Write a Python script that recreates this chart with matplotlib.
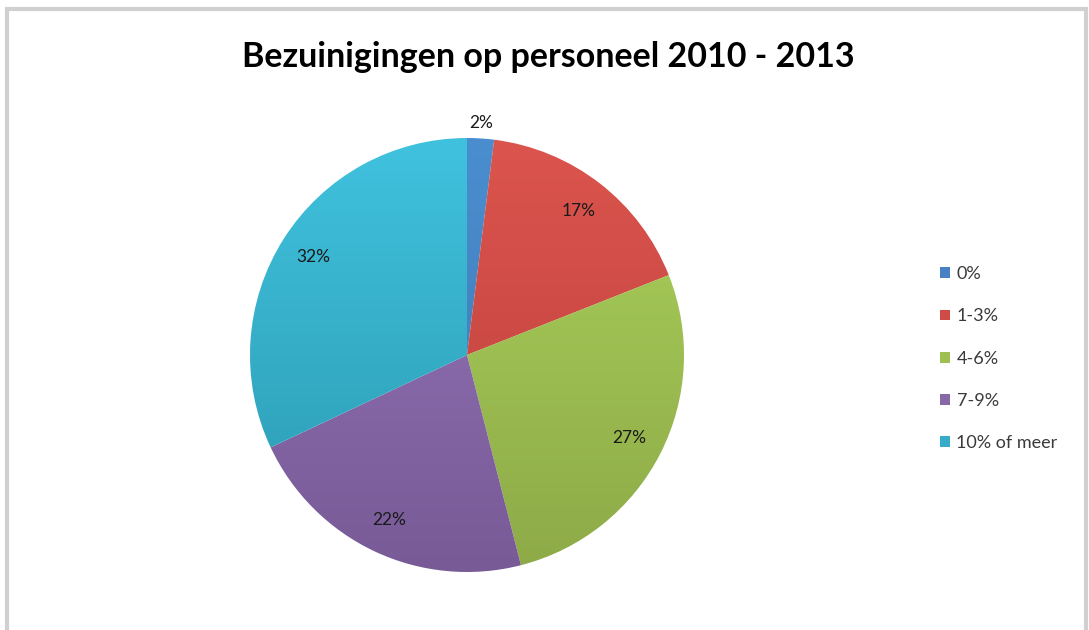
import matplotlib.pyplot as plt
import numpy as np
from matplotlib.colors import LinearSegmentedColormap
from matplotlib.patches import Rectangle

categories = ['0%', '1-3%', '4-6%', '7-9%', '10% of meer']
values = [2, 17, 27, 22, 32]
labels = ['2%', '17%', '27%', '22%', '32%']
# light (top) / dark (bottom) shades per slice
top_colors = ['#4a8ed0', '#dc544e', '#abd15c', '#9776bb', '#40c2de']
bottom_colors = ['#3f76b0', '#bb403a', '#8daa47', '#775a96', '#2b98b0']
base_colors = ['#4682c3', '#cf4b45', '#9ebf52', '#8769a9', '#37acc8']

W, H = 1089, 630
fig = plt.figure(figsize=(W / 100, H / 100), dpi=100)
fig.patch.set_facecolor('white')

# chart frame
fig.add_artist(Rectangle((7 / W, -0.05), 1079 / W, (H - 9) / H + 0.05,
                         transform=fig.transFigure, fill=False,
                         edgecolor='#d0d0d0', linewidth=3))

fig.text(548 / W, 1 - 57 / H, 'Bezuinigingen op personeel 2010 - 2013',
         ha='center', va='center', fontsize=24.5, fontweight='bold',
         family='Lato', color='black')

cx, cy, r = 467, 355, 217
ax = fig.add_axes([(cx - r) / W, (H - cy - r) / H, 2 * r / W, 2 * r / H])
wedges, texts, autotexts = ax.pie(values, startangle=90, counterclock=False,
                                  colors=base_colors, radius=1,
                                  autopct='%1.0f%%', pctdistance=0.84,
                                  textprops=dict(fontsize=12.5, family='Lato',
                                                 color='#1a1a1a'))
ax.set_xlim(-1, 1)
ax.set_ylim(-1, 1)
ax.set_aspect('equal')

grad = np.linspace(0, 1, 256).reshape(-1, 1)
for w, c1, c2 in zip(wedges, top_colors, bottom_colors):
    cmap = LinearSegmentedColormap.from_list('g', [c1, c2])
    im = ax.imshow(grad, cmap=cmap, extent=[-1, 1, -1, 1], origin='upper',
                   aspect='auto', zorder=1)
    im.set_clip_path(w)
    w.set_facecolor('none')
    w.set_zorder(2)
    w.set_edgecolor('none')

for t, lab in zip(autotexts, labels):
    t.set_text(lab)
    t.set_zorder(5)

# small first slice label sits just outside the pie
th = np.deg2rad((wedges[0].theta1 + wedges[0].theta2) / 2)
autotexts[0].set_position((1.07 * np.cos(th), 1.07 * np.sin(th)))

ax.set_xlim(-1, 1)
ax.set_ylim(-1, 1)

leg = fig.legend(wedges, categories, loc='upper left',
                 bbox_to_anchor=(924 / W, 1 - 250 / H), frameon=False,
                 handlelength=0.55, handleheight=0.55, handletextpad=0.35,
                 labelspacing=1.45, prop=dict(family='Lato', size=13))
for h, c in zip(leg.legend_handles, base_colors):
    h.set_facecolor(c)
for t in leg.get_texts():
    t.set_color('#3a3a3a')

fig.savefig('out.png', dpi=100)
